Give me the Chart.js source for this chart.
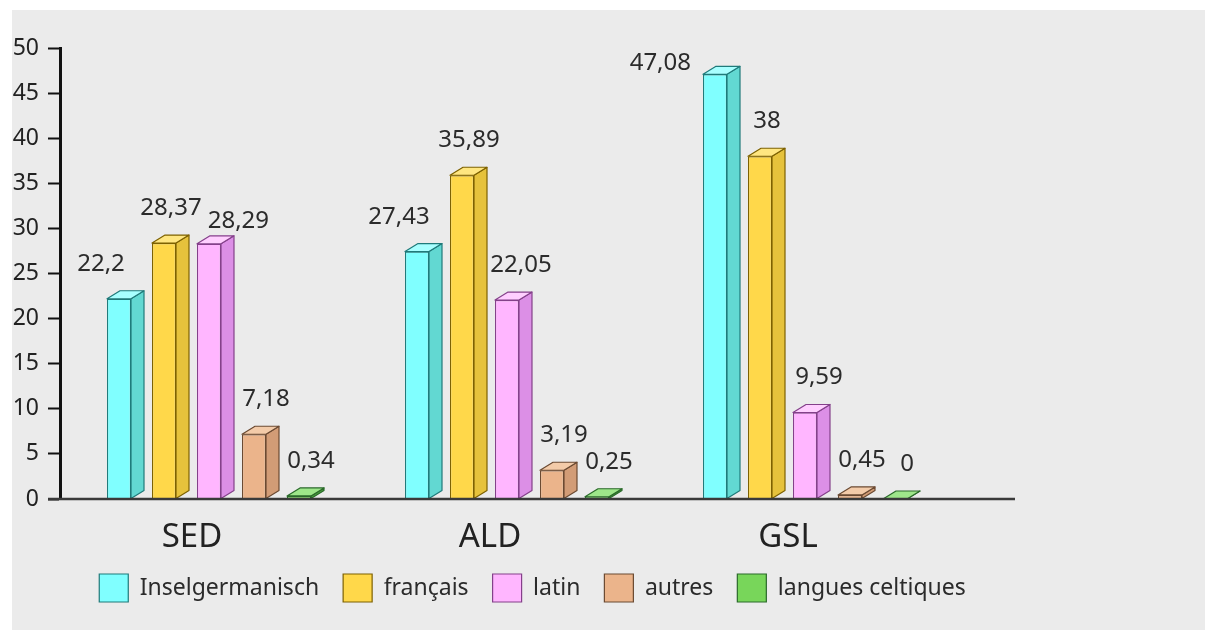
<!DOCTYPE html>
<html><head><meta charset="utf-8">
<script src="https://cdn.jsdelivr.net/npm/chart.js@4/dist/chart.umd.min.js"></script>
<style>
html,body{margin:0;padding:0;background:#fff;width:1205px;height:630px;overflow:hidden}
#bg{position:absolute;left:12px;top:10px;right:0;bottom:0;background:#ebebeb}
#wrap{position:absolute;left:0;top:0;width:1065px;height:630px}
</style></head><body>
<div id="bg"></div>
<div id="wrap"><canvas id="c"></canvas></div>
<script>
// ---- data ----
const categories = ['SED', 'ALD', 'GSL'];
const seriesNames = ['Inselgermanisch', 'français', 'latin', 'autres', 'langues celtiques'];
const inselgermanisch = [22.2, 27.43, 47.08];
const francais = [28.37, 35.89, 38];
const latin = [28.29, 22.05, 9.59];
const autres = [7.18, 3.19, 0.45];
const celtiques = [0.34, 0.25, 0];
const yTicks = [0, 5, 10, 15, 20, 25, 30, 35, 40, 45, 50];

// ---- styles ----
const FONT = '"Noto Sans", "DejaVu Sans", sans-serif';
const frontCol = ['#80ffff', '#ffd84a', '#ffb6ff', '#ebb48b', '#78d65a'];
const sideCol  = ['#62d8d2', '#e6c23c', '#dc8fe6', '#d29c76', '#4aa03c'];
const topCol   = ['#a8ffff', '#ffe680', '#ffcfff', '#f3cba9', '#9ee68a'];
const edgeCol  = ['#1f7a7a', '#7d6100', '#84408a', '#6b4a32', '#2a6a2a'];
const DX = 13, DY = 8, GAP = 20;
const LABEL_DX = [-18, 7, 14, 12, 12];

const seriesValues = [inselgermanisch, francais, latin, autres, celtiques];

const fmt = v => String(v).replace('.', ',');

const bar3d = {
  id: 'bar3d',
  afterDatasetsDraw(chart) {
    const ctx = chart.ctx;
    const yScale = chart.scales.y;
    const base0 = yScale.getPixelForValue(0);
    // 3D faces
    chart.data.datasets.forEach((ds, di) => {
      const meta = chart.getDatasetMeta(di);
      meta.data.forEach(bar => {
        const p = bar.getProps(['x', 'y', 'base', 'width'], true);
        const l = p.x - p.width / 2, r = p.x + p.width / 2;
        ctx.save();
        ctx.lineWidth = 1.2;
        ctx.strokeStyle = edgeCol[di];
        ctx.lineJoin = 'round';
        ctx.beginPath();
        ctx.moveTo(r, p.y); ctx.lineTo(r + DX, p.y - DY);
        ctx.lineTo(r + DX, p.base - DY); ctx.lineTo(r, p.base);
        ctx.closePath();
        ctx.fillStyle = sideCol[di]; ctx.fill(); ctx.stroke();
        ctx.beginPath();
        ctx.moveTo(l, p.y); ctx.lineTo(l + DX, p.y - DY);
        ctx.lineTo(r + DX, p.y - DY); ctx.lineTo(r, p.y);
        ctx.closePath();
        ctx.fillStyle = topCol[di]; ctx.fill(); ctx.stroke();
        ctx.restore();
      });
    });
    // baseline
    ctx.save();
    ctx.strokeStyle = '#3a3a3a';
    ctx.lineWidth = 2.5;
    ctx.beginPath();
    ctx.moveTo(chart.chartArea.left - 12, base0);
    ctx.lineTo(chart.chartArea.right + 61, base0);
    ctx.stroke();
    ctx.restore();
    // value labels
    ctx.save();
    ctx.font = '24px ' + FONT;
    ctx.fillStyle = '#2b2b2b';
    ctx.textAlign = 'center';
    ctx.textBaseline = 'alphabetic';
    const H = 18;
    categories.forEach((c, i) => {
      const placed = [];
      chart.data.datasets.forEach((ds, di) => {
        const bar = chart.getDatasetMeta(di).data[i];
        const v = ds.data[i];
        const text = fmt(v);
        const w = ctx.measureText(text).width;
        let cx = bar.x + LABEL_DX[di];
        let by = bar.y - DY - GAP;
        if (by - H < chart.chartArea.top) {
          cx = bar.x - bar.width / 2 - 12 - w / 2;
          by = bar.y - 4;
        }
        placed.forEach(q => {
          if (cx - w / 2 < q.r + 4 && cx + w / 2 > q.l - 4 && by - H < q.b && by > q.t) {
            cx = q.r + 6 + w / 2;
            by += 12;
          }
        });
        ctx.fillText(text, cx, by);
        placed.push({l: cx - w / 2, r: cx + w / 2, t: by - H, b: by});
      });
    });
    ctx.restore();
  }
};

new Chart(document.getElementById('c'), {
  type: 'bar',
  data: {
    labels: categories,
    datasets: seriesNames.map((name, di) => ({
      label: name,
      data: seriesValues[di],
      backgroundColor: frontCol[di],
      borderColor: edgeCol[di],
      borderWidth: 1.2,
      categoryPercentage: 0.755,
      barPercentage: 0.533
    }))
  },
  options: {
    responsive: true,
    maintainAspectRatio: false,
    animation: false,
    layout: {padding: {top: 48, right: 0, left: 0, bottom: 18}},
    plugins: {
      legend: {
        position: 'bottom',
        labels: {
          boxWidth: 29, boxHeight: 28, padding: 24, color: '#2b2b2b',
          font: {family: FONT, size: 23}
        }
      },
      tooltip: {enabled: false}
    },
    scales: {
      x: {
        grid: {display: false, drawTicks: false},
        border: {display: false},
        ticks: {color: '#222', font: {family: FONT, size: 33}, padding: 19, labelOffset: -17},
        afterFit(s) { s.height = 51; }
      },
      y: {
        min: 0, max: 50,
        afterBuildTicks(s) { s.ticks = yTicks.map(v => ({value: v})); },
        ticks: {color: '#222', font: {family: FONT, size: 23}, padding: 9},
        grid: {drawOnChartArea: false, drawTicks: true, tickLength: 12, tickColor: '#111', tickWidth: 2},
        border: {color: '#111', width: 3},
        afterFit(s) { s.width = 60; }
      },
      yR: {
        position: 'right',
        display: true,
        min: 0, max: 50,
        ticks: {display: false},
        grid: {display: false, drawTicks: false},
        border: {display: false},
        afterFit(s) { s.width = 111; }
      }
    }
  },
  plugins: [bar3d]
});
</script>
</body></html>
